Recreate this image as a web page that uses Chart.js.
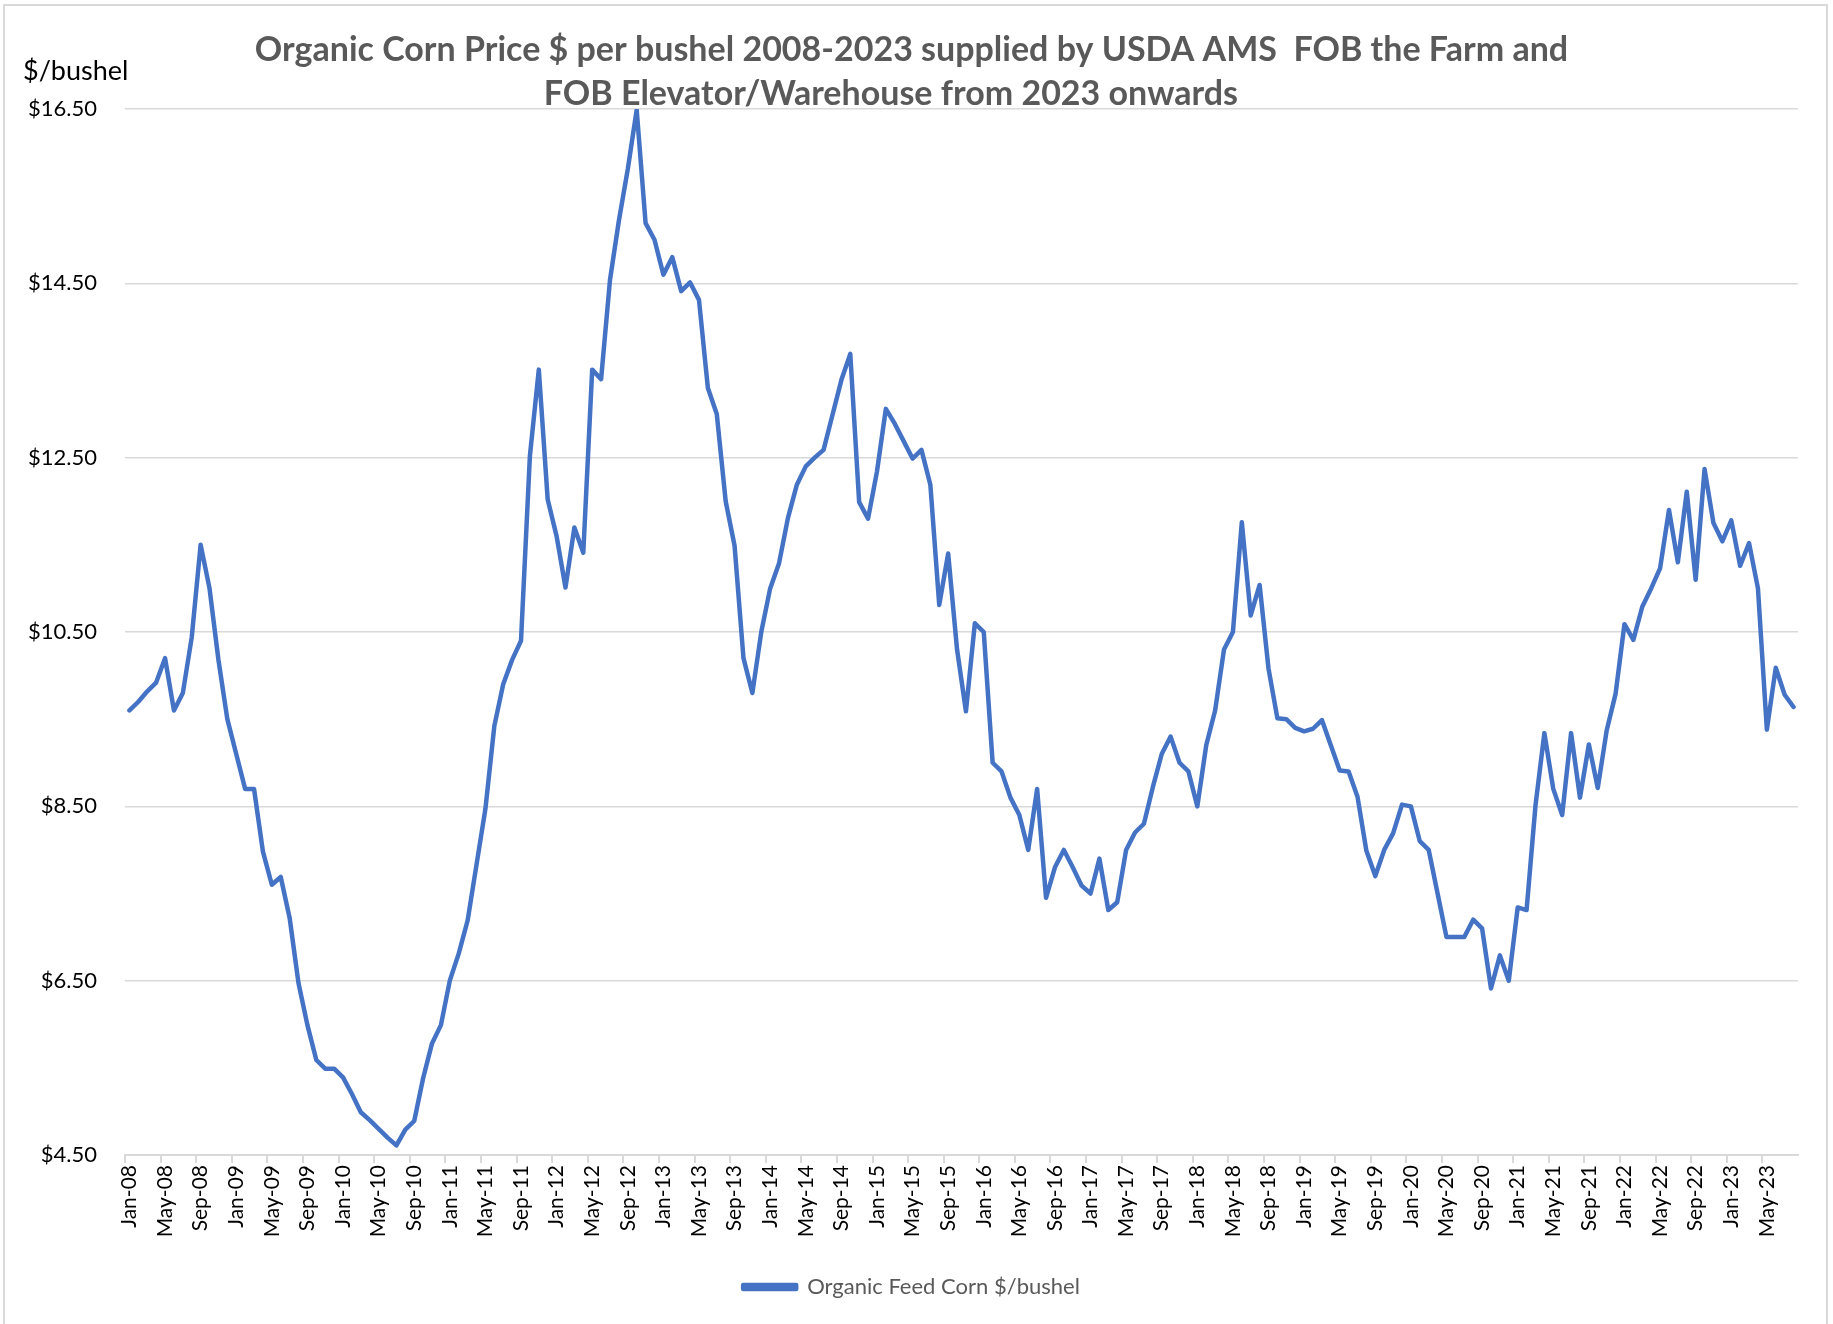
<!DOCTYPE html>
<html>
<head>
<meta charset="utf-8">
<title>Organic Corn Price</title>
<script src="https://cdn.jsdelivr.net/npm/chart.js@4"></script>
<style>
  body { margin: 0; background: #fff; }
  #wrap { position: relative; width: 1833px; height: 1324px; }
</style>
</head>
<body>
<div id="wrap"><canvas id="cornChart"></canvas></div>
<script>
// months / years used to build the category labels (Jan-08 ... Aug-23)
const monthNames = ['Jan', 'Feb', 'Mar', 'Apr', 'May', 'Jun', 'Jul', 'Aug', 'Sep', 'Oct', 'Nov', 'Dec'];
const years = ['08', '09', '10', '11', '12', '13', '14', '15', '16', '17', '18', '19', '20', '21', '22', '23'];

// $/bushel, one array per year
const p2008 = [9.6, 9.7, 9.82, 9.92, 10.2, 9.6, 9.8, 10.44, 11.5, 11.0, 10.18, 9.5];
const p2009 = [9.1, 8.7, 8.7, 7.98, 7.6, 7.69, 7.22, 6.47, 5.99, 5.59, 5.49, 5.49];
const p2010 = [5.39, 5.2, 4.99, 4.9, 4.8, 4.7, 4.61, 4.79, 4.89, 5.38, 5.78, 5.99];
const p2011 = [6.5, 6.81, 7.19, 7.83, 8.47, 9.42, 9.9, 10.18, 10.4, 12.52, 13.51, 12.02];
const p2012 = [11.6, 11.01, 11.7, 11.41, 13.51, 13.4, 14.54, 15.22, 15.81, 16.49, 15.19, 15.0];
const p2013 = [14.6, 14.8, 14.41, 14.51, 14.31, 13.3, 13.0, 12.0, 11.49, 10.2, 9.8, 10.5];
const p2014 = [11.0, 11.29, 11.81, 12.19, 12.4, 12.5, 12.59, 12.99, 13.39, 13.69, 11.99, 11.8];
const p2015 = [12.34, 13.06, 12.89, 12.69, 12.49, 12.59, 12.19, 10.81, 11.4, 10.3, 9.59, 10.6];
const p2016 = [10.5, 9.0, 8.9, 8.6, 8.4, 8.0, 8.7, 7.45, 7.8, 8.0, 7.8, 7.59];
const p2017 = [7.5, 7.9, 7.31, 7.4, 8.0, 8.2, 8.3, 8.72, 9.1, 9.3, 9.0, 8.9];
const p2018 = [8.5, 9.2, 9.6, 10.3, 10.5, 11.76, 10.69, 11.04, 10.08, 9.51, 9.5, 9.4];
const p2019 = [9.36, 9.39, 9.49, 9.2, 8.91, 8.9, 8.61, 7.99, 7.7, 8.0, 8.19, 8.52];
const p2020 = [8.5, 8.1, 8.0, 7.5, 7.0, 7.0, 7.0, 7.2, 7.1, 6.41, 6.79, 6.5];
const p2021 = [7.34, 7.31, 8.51, 9.34, 8.7, 8.4, 9.34, 8.6, 9.21, 8.71, 9.37, 9.79];
const p2022 = [10.59, 10.41, 10.79, 11.0, 11.23, 11.9, 11.3, 12.11, 11.1, 12.37, 11.75, 11.54];
const p2023 = [11.78, 11.26, 11.52, 11.0, 9.38, 10.09, 9.78, 9.64];

const yTicks = [4.5, 6.5, 8.5, 10.5, 12.5, 14.5, 16.5];

const prices = [].concat(p2008, p2009, p2010, p2011, p2012, p2013, p2014, p2015,
  p2016, p2017, p2018, p2019, p2020, p2021, p2022, p2023);

const labels = [];
for (let i = 0; i < prices.length; i++) {
  labels.push(monthNames[i % 12] + '-' + years[Math.floor(i / 12)]);
}

const FONT = 'Lato, "Liberation Sans", sans-serif';

// white background, chart border and the "$/bushel" caption
const extras = {
  id: 'extras',
  beforeDraw(chart) {
    const ctx = chart.ctx;
    ctx.save();
    ctx.fillStyle = '#fff';
    ctx.fillRect(0, 0, chart.width, chart.height);
    ctx.strokeStyle = '#D9D9D9';
    ctx.lineWidth = 2;
    ctx.strokeRect(4, 5, 1823, 1340);
    ctx.restore();
  },
  afterDraw(chart) {
    const ctx = chart.ctx;
    ctx.save();
    ctx.font = '27px ' + FONT;
    ctx.fillStyle = '#000';
    ctx.textBaseline = 'middle';
    ctx.textAlign = 'left';
    ctx.fillText('$/bushel', 23, 71);
    ctx.restore();
  }
};

const cornChart = document.querySelector('#cornChart');

new Chart(cornChart, {
  type: 'line',
  data: {
    labels: labels,
    datasets: [{
      label: 'Organic Feed Corn $/bushel',
      data: prices,
      borderColor: '#4472C4',
      backgroundColor: '#4472C4',
      borderWidth: 4.5,
      borderJoinStyle: 'round',
      borderCapStyle: 'round',
      pointRadius: 0,
      tension: 0
    }]
  },
  options: {
    responsive: true,
    maintainAspectRatio: false,
    animation: false,
    layout: {
      padding: { left: 25, right: 35, top: 0, bottom: 16 }
    },
    scales: {
      x: {
        type: 'category',
        offset: true,
        border: { display: true, color: '#D9D9D9', width: 2 },
        grid: {
          offset: true,
          drawOnChartArea: false,
          tickLength: 8,
          lineWidth: 2,
          color: (c) => (c.index % 4 === 0 ? '#D9D9D9' : 'rgba(0,0,0,0)')
        },
        ticks: {
          autoSkip: false,
          minRotation: 90,
          maxRotation: 90,
          padding: 2,
          color: '#000',
          font: { family: FONT, size: 21 },
          callback: function (value, index) {
            return index % 4 === 0 ? this.getLabelForValue(value) : '';
          }
        },
        afterFit: (scale) => { scale.height = 111; }
      },
      y: {
        min: 4.5,
        max: 16.5,
        border: { display: false },
        grid: { color: '#D9D9D9', lineWidth: 1.5, drawTicks: false },
        afterBuildTicks: (scale) => {
          scale.ticks = yTicks.map(v => ({ value: v }));
        },
        ticks: {
          padding: 28,
          color: '#000',
          font: { family: FONT, size: 22 },
          callback: (v) => '$' + Number(v).toFixed(2)
        },
        afterFit: (scale) => { scale.width = 100; }
      }
    },
    plugins: {
      title: {
        display: true,
        // trailing spaces keep the second line offset to the left as in the original
        text: ['Organic Corn Price $ per bushel 2008-2023 supplied by USDA AMS  FOB the Farm and',
               'FOB Elevator/Warehouse from 2023 onwards     '],
        color: '#595959',
        font: { family: FONT, size: 34, weight: 'bold', lineHeight: '44px' },
        padding: { top: 28, bottom: -7 }
      },
      legend: {
        position: 'bottom',
        labels: {
          color: '#595959',
          font: { family: FONT, size: 22 },
          boxWidth: 53,
          boxHeight: 4,
          padding: 10
        }
      },
      tooltip: { enabled: false }
    }
  },
  plugins: [extras]
});
</script>
</body>
</html>
